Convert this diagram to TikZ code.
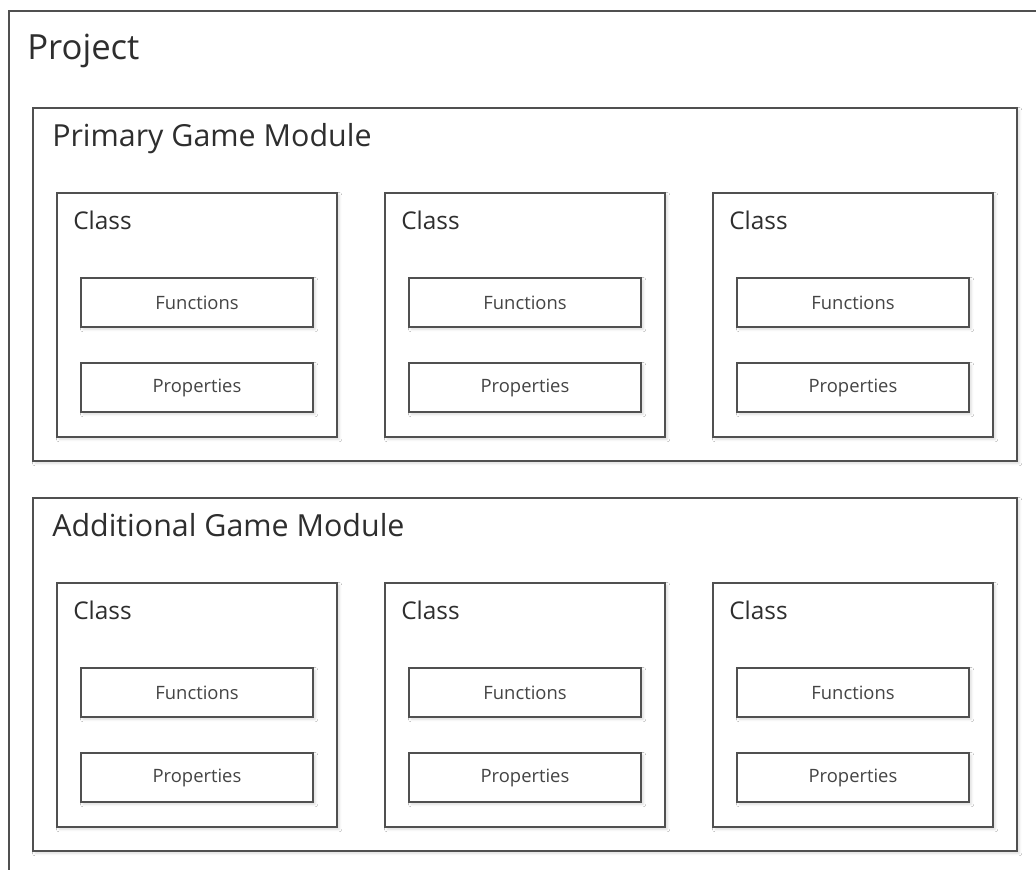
\documentclass[tikz,border=0pt]{standalone}
\usepackage{fontspec}
\setmainfont{Open Sans}
\usetikzlibrary{shadows.blur}
\definecolor{edge}{HTML}{505050}
\definecolor{ink}{HTML}{2E2E2E}
\definecolor{inksoft}{HTML}{444444}
\tikzset{
  x=0.75pt, y=-0.75pt,
  frame/.style={draw=edge, line width=1.1pt, fill=white, rectangle,
    inner sep=0pt, outer sep=0pt, anchor=north west,
    blur shadow={shadow xshift=1.6pt, shadow yshift=-1.6pt,
      shadow blur radius=2pt, shadow opacity=14}},
  modulebox/.style={frame, minimum width=738pt, minimum height=264.75pt},
  classbox/.style={frame, minimum width=210pt, minimum height=183pt},
  itembox/.style={frame, minimum width=174pt, minimum height=36.75pt,
    text=inksoft, font=\fontsize{13.8}{16}\selectfont},
  projtitle/.style={anchor=base west, inner sep=0pt, text=ink,
    font=\fontsize{26}{30}\selectfont},
  modtitle/.style={anchor=base west, inner sep=0pt, text=ink,
    font=\fontsize{22.8}{27}\selectfont},
  classtitle/.style={anchor=base west, inner sep=0pt, text=ink,
    font=\fontsize{18.3}{22}\selectfont},
}
\begin{document}
\begin{tikzpicture}
\useasboundingbox (0,0) rectangle (1036,869);
\clip (0,0) rectangle (1036,869);
\fill[white] (0,0) rectangle (1036,869);

% outer project frame runs past the right and bottom edges
\node[draw=edge, line width=1.1pt, rectangle, inner sep=0pt, outer sep=0pt,
  anchor=north west, minimum width=800pt, minimum height=700pt]
  (project) at (9,11) {};
\node[projtitle] (projectlabel) at (27,59) {Project};

% two game modules, each holding three classes
\foreach \m/\top/\name in {1/108/Primary Game Module, 2/498/Additional Game Module} {
  \node[modulebox] (mod\m) at (33,\top) {};
  \node[modtitle] (mod\m label) at (52,\top+38) {\name};
  \foreach \c/\left in {1/57, 2/385, 3/713} {
    \node[classbox] (m\m c\c) at (\left,\top+85) {};
    \node[classtitle] (m\m c\c label) at (\left+16,\top+121) {Class};
    \node[itembox] (m\m c\c fn) at (\left+24,\top+170) {Functions};
    \node[itembox] (m\m c\c pr) at (\left+24,\top+255) {Properties};
  }
}
\end{tikzpicture}
\end{document}
